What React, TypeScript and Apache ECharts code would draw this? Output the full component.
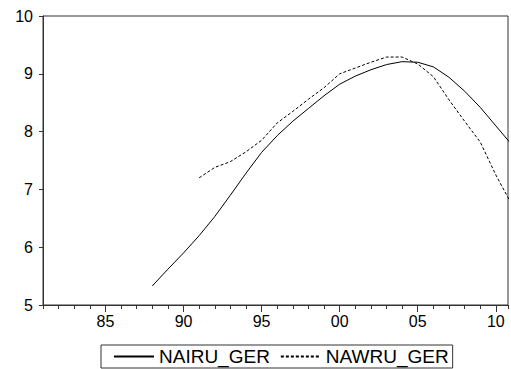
import React, { useEffect, useRef } from "react";
import * as echarts from "echarts";

const nairuYears = [1988, 1989, 1990, 1991, 1992, 1993, 1994, 1995, 1996, 1997, 1998, 1999, 2000, 2001, 2002, 2003, 2004, 2005, 2006, 2007, 2008, 2009, 2010, 2011];
const nairuValues = [5.33, 5.62, 5.9, 6.2, 6.53, 6.9, 7.28, 7.64, 7.93, 8.18, 8.4, 8.62, 8.82, 8.96, 9.07, 9.16, 9.21, 9.2, 9.12, 8.94, 8.7, 8.42, 8.1, 7.78];

const nawruYears = [1991, 1992, 1993, 1994, 1995, 1996, 1997, 1998, 1999, 2000, 2001, 2002, 2003, 2004, 2005, 2006, 2007, 2008, 2009, 2010, 2011];
const nawruValues = [7.2, 7.38, 7.48, 7.65, 7.85, 8.15, 8.35, 8.56, 8.76, 9.0, 9.1, 9.2, 9.29, 9.29, 9.17, 8.95, 8.55, 8.18, 7.82, 7.25, 6.75];

const seriesNames = ["NAIRU_GER", "NAWRU_GER"];
const majorTickYears = [1985, 1990, 1995, 2000, 2005, 2010];
const yTicks = [5, 6, 7, 8, 9, 10];

const FONT = "'Liberation Sans', Arial, sans-serif";

export default function App() {
  const ref = useRef<HTMLDivElement>(null);
  useEffect(() => {
    if (!ref.current) return;
    const chart = echarts.init(ref.current, null, { renderer: "svg" });
    const xMin = 1981;
    const xMax = 2010.78;
    chart.setOption({
      animation: false,
      backgroundColor: "#ffffff",
      grid: {
        left: 43,
        top: 16,
        right: -1,
        bottom: 64,
        show: true,
        borderColor: "#333",
        borderWidth: 1,
        backgroundColor: "#ffffff",
      },
      legend: {
        left: 101,
        top: 345,
        orient: "horizontal",
        data: seriesNames,
        borderColor: "#333",
        borderWidth: 1,
        padding: [2, 4, 2, 12],
        itemWidth: 40,
        itemHeight: 10,
        itemGap: 10,
        itemStyle: { opacity: 0, borderWidth: 0 },
        textStyle: { fontFamily: FONT, fontSize: 19, color: "#000" },
      },
      xAxis: [
        {
          type: "value",
          min: xMin,
          max: xMax,
          interval: 1,
          splitLine: { show: false },
          axisLine: { show: true, lineStyle: { color: "#333", width: 1 } },
          axisTick: { show: true, length: 4, lineStyle: { color: "#333" } },
          axisLabel: {
            show: true,
            margin: 8,
            fontFamily: FONT,
            fontSize: 16,
            color: "#000",
            formatter: (v: number) => {
              if (majorTickYears.indexOf(v) < 0) return "";
              return String(v % 100).padStart(2, "0");
            },
          },
        },
        {
          type: "value",
          position: "bottom",
          min: xMin,
          max: xMax,
          splitLine: { show: false },
          axisLine: { show: false },
          axisTick: {
            show: true,
            length: 7,
            customValues: majorTickYears,
            lineStyle: { color: "#333" },
          },
          axisLabel: { show: false },
        },
      ],
      yAxis: {
        type: "value",
        min: yTicks[0],
        max: yTicks[yTicks.length - 1],
        interval: 1,
        splitLine: { show: false },
        axisLine: { show: true, lineStyle: { color: "#333", width: 1 } },
        axisTick: { show: true, length: 4, lineStyle: { color: "#333" } },
        axisLabel: {
          margin: 10,
          fontFamily: FONT,
          fontSize: 16,
          color: "#000",
        },
      },
      series: [
        {
          name: seriesNames[0],
          type: "line",
          xAxisIndex: 0,
          symbol: "none",
          clip: true,
          lineStyle: { color: "#000", width: 1 },
          itemStyle: { color: "#000" },
          data: nairuYears.map((y, i) => [y, nairuValues[i]]),
        },
        {
          name: seriesNames[1],
          type: "line",
          xAxisIndex: 0,
          symbol: "none",
          clip: true,
          lineStyle: { color: "#000", width: 1, type: [3, 2] },
          itemStyle: { color: "#000" },
          data: nawruYears.map((y, i) => [y, nawruValues[i]]),
        },
      ],
    });
    return () => chart.dispose();
  }, []);
  return (
    <div
      ref={ref}
      style={{ position: "fixed", left: 0, top: 0, width: 511, height: 369, background: "#fff" }}
    />
  );
}
